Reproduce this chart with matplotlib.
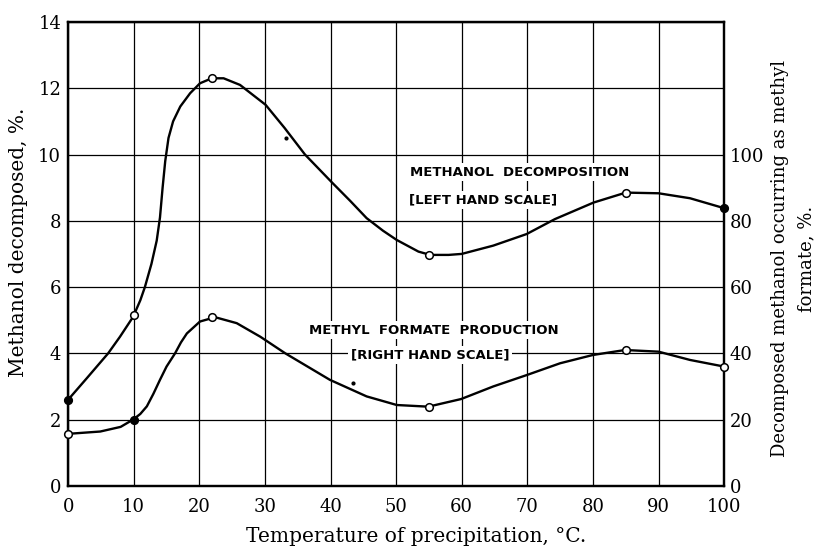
import numpy as np
import matplotlib
matplotlib.use('Agg')
import matplotlib.pyplot as plt

# Puntos medidos (circulos)
temp_pts = [0, 10, 22, 55, 85, 100]
decomp_pts = [2.6, 5.15, 12.3, 6.97, 8.85, 8.4]          # escala izquierda, %
formate_pts = [15.7, 20.0, 51.0, 23.9, 41.0, 36.0]       # escala derecha, %
decomp_filled = [True, False, False, False, False, True]
formate_filled = [False, True, False, False, False, False]

# Curvas
decomp_x = [0, 2.85, 6.1, 7.9, 9.9, 11.0, 11.7, 12.7, 13.5, 14.0, 14.4, 14.8,
            15.3, 16.0, 17.1, 18.6, 20.1, 21.9, 23.7, 26.2, 28.8, 30.1, 33.0,
            36.1, 40.1, 43.0, 45.5, 48.0, 50.1, 53.4, 55.2, 58.0, 60, 64.8,
            69.9, 74.2, 80.1, 85, 90, 94.8, 100]
decomp_y = [2.6, 3.25, 4.0, 4.5, 5.1, 5.6, 6.0, 6.7, 7.4, 8.1, 9.0, 9.8,
            10.5, 11.0, 11.45, 11.85, 12.15, 12.3, 12.3, 12.1, 11.7, 11.5, 10.8,
            10.0, 9.18, 8.6, 8.08, 7.7, 7.42, 7.07, 6.97, 6.97, 7.0, 7.25,
            7.6, 8.05, 8.55, 8.85, 8.83, 8.68, 8.38]

formate_x = [0, 4.9, 8.0, 9.9, 11.0, 12.0, 13.0, 14.0, 15.0, 16.3, 17.2, 18.1,
             20.1, 22.4, 25.7, 29.3, 33.1, 36.5, 39.9, 45.5, 50.1, 54.9, 59.9,
             64.8, 70, 75, 80, 84.9, 90, 94.8, 100]
formate_y = [15.7, 16.4, 17.8, 20.0, 21.7, 24.0, 27.8, 32.0, 36.0, 40.0, 43.3,
             46.0, 49.6, 50.9, 49.1, 45.0, 40.0, 36.0, 32.0, 27.0, 24.4, 23.9,
             26.2, 30.0, 33.5, 37.0, 39.5, 41.0, 40.5, 38.0, 36.0]

# Manchitas del escaneo
speck_x = [33.2, 43.4]
speck_y = [10.5, 3.1]

serif = 'DejaVu Serif'
fig = plt.figure(figsize=(8.21, 5.49), dpi=100)
ax = fig.add_axes([0.083, 0.115, 0.799, 0.845])

ax.set_xlim(0, 100)
ax.set_ylim(0, 14)
ax.set_xticks(np.arange(0, 101, 10))
ax.set_yticks(np.arange(0, 15, 2))
ax.grid(True, color='black', linewidth=0.9)
ax.set_axisbelow(True)
for s in ax.spines.values():
    s.set_linewidth(1.6)
ax.tick_params(length=0, labelsize=13)
ax.tick_params(axis='x', pad=9)
ax.tick_params(axis='y', pad=5)
for lab in ax.get_xticklabels() + ax.get_yticklabels():
    lab.set_fontfamily(serif)

ax.plot(decomp_x, decomp_y, color='black', linewidth=1.7, zorder=4,
        solid_joinstyle='round')
for x, y, f in zip(temp_pts, decomp_pts, decomp_filled):
    ax.plot(x, y, 'o', ms=5.5, mec='black', mew=1.1,
            mfc='black' if f else 'white', zorder=5, clip_on=False)
ax.plot(speck_x, speck_y, 'o', ms=2, color='black')

ax.set_xlabel('Temperature of precipitation, °C.', fontsize=14.5, fontfamily=serif)
ax.xaxis.set_label_coords(0.53, -0.088)
ax.set_ylabel('Methanol decomposed, %.', fontsize=14.5, fontfamily=serif)
ax.yaxis.set_label_coords(-0.061, 0.524)

ax2 = ax.twinx()
ax2.set_ylim(0, 140)
ax2.set_yticks(np.arange(0, 101, 20))
ax2.tick_params(length=0, labelsize=13, pad=4)
for lab in ax2.get_yticklabels():
    lab.set_fontfamily(serif)
for s in ax2.spines.values():
    s.set_linewidth(1.6)

ax2.plot(formate_x, formate_y, color='black', linewidth=1.7, zorder=4,
         solid_joinstyle='round')
for x, y, f in zip(temp_pts, formate_pts, formate_filled):
    ax2.plot(x, y, 'o', ms=5.5, mec='black', mew=1.1,
             mfc='black' if f else 'white', zorder=5, clip_on=False)

ax2.set_ylabel('Decomposed methanol occurring as methyl\nformate, %.',
               fontsize=13, fontfamily=serif, linespacing=1.55)
ax2.yaxis.set_label_coords(1.072, 0.49)

box = dict(facecolor='white', edgecolor='none', pad=2)
txt = dict(fontsize=9.5, fontweight='bold', fontfamily='DejaVu Sans',
           ha='center', va='center', zorder=3, bbox=box)
ax2.text(68.9, 94.7, 'METHANOL  DECOMPOSITION', **txt)
ax2.text(63.2, 86.3, '[LEFT HAND SCALE]', **txt)
ax2.text(55.8, 47.0, 'METHYL  FORMATE  PRODUCTION', **txt)
ax2.text(55.2, 39.5, '[RIGHT HAND SCALE]', **txt)

plt.savefig('out.png', dpi=100)
